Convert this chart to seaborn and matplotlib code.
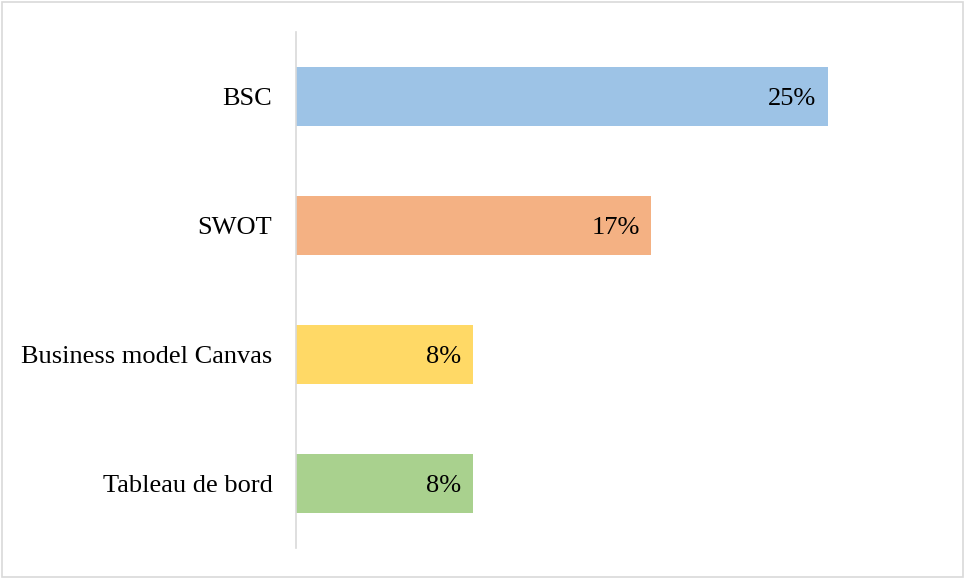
import matplotlib
matplotlib.use("Agg")
import matplotlib.pyplot as plt
import seaborn as sns
import pandas as pd

# data
categories = ["BSC", "SWOT", "Business model Canvas", "Tableau de bord"]
values = [25.0, 16.7, 8.3, 8.3]
value_labels = ["25%", "17%", "8%", "8%"]
colors = ["#9DC3E6", "#F4B183", "#FFD966", "#A9D18E"]

df = pd.DataFrame({"outil": categories, "pct": values})

sns.set_style("white")
plt.rcParams["font.family"] = ["Liberation Serif", "DejaVu Serif"]

fig = plt.figure(figsize=(9.65, 5.79), dpi=100)
ax = fig.add_axes([296 / 965, 1 - 548 / 579, (934 - 296) / 965, (548 - 32) / 579])

sns.barplot(data=df, y="outil", x="pct", hue="outil", palette=colors,
            orient="h", width=0.45, saturation=1, linewidth=0,
            legend=False, ax=ax)

# labels inside bar ends
for i, (v, lab) in enumerate(zip(values, value_labels)):
    ax.annotate(lab, (v, i), xytext=(-8, 0), textcoords="offset points",
                ha="right", va="center_baseline", fontsize=19, color="black")

ax.set_xlim(0, 30)
ax.set_ylim(3.5, -0.5)
ax.set_xlabel("")
ax.set_ylabel("")
ax.set_xticks([])
ax.tick_params(axis="y", length=0, pad=17, labelsize=19, labelcolor="black")
for s in ["top", "right", "bottom"]:
    ax.spines[s].set_visible(False)
ax.spines["left"].set_color("#D9D9D9")
ax.spines["left"].set_linewidth(1.2)

# outer frame
fig.patches.append(plt.Rectangle((2 / 965, 2 / 579), 961 / 965, 575 / 579,
                                 transform=fig.transFigure, fill=False,
                                 edgecolor="#D9D9D9", linewidth=1.2))

fig.savefig("out.png", dpi=100)
